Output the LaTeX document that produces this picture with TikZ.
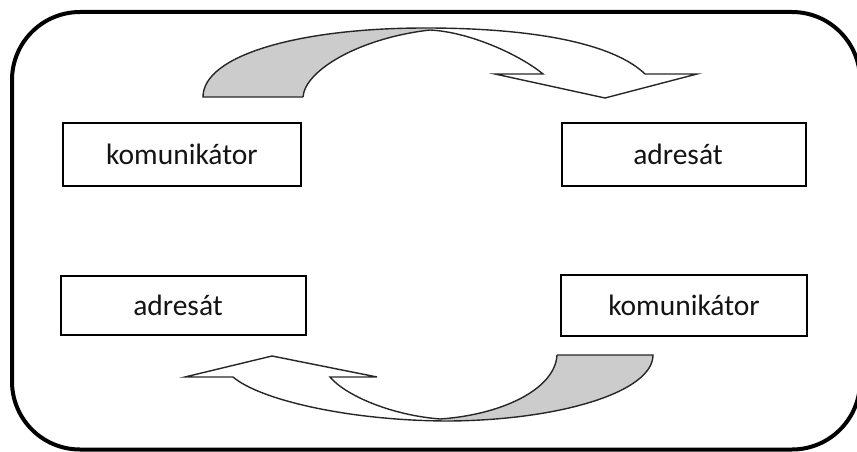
\documentclass[tikz,border=0pt]{standalone}
\usepackage{fontspec}
\setmainfont{Carlito}
\definecolor{bandgray}{RGB}{204,204,204}
\definecolor{txt}{RGB}{20,20,20}
\tikzset{
  role/.style={draw=black, line width=1.6pt, fill=white, inner sep=0pt,
    font=\fontsize{29.5pt}{34pt}\selectfont, text=txt},
  frame/.style={draw=black, line width=4pt, rounded corners=68pt},
  band/.style={draw=black!85, line width=1.4pt, line join=miter},
}
\begin{document}
\begin{tikzpicture}[x=1pt,y=-1pt]
\useasboundingbox (0,0) rectangle (857,452);
% outer frame
\draw[frame] (12,12) rectangle (860,449.5);

% role boxes
\node[role, minimum width=238pt, minimum height=63pt] (kom1) at (182,154.5) {komunikátor};
\node[role, minimum width=244pt, minimum height=63pt] (adr1) at (684,154.5) {adresát\kern12pt};
\node[role, minimum width=245pt, minimum height=59pt] (adr2) at (183.5,305.5) {adresát\kern11pt};
\node[role, minimum width=246pt, minimum height=61pt] (kom2) at (684,305.5) {komunikátor};

% ---- top curved arrow (from komunikator to adresat) ----
% shaded back side
\fill[bandgray] (203,97) -- (303,97)
  .. controls (305,70) and (360,38) .. (430,30)
  -- (425,28)
  .. controls (300,28) and (203,55) .. (203,97) -- cycle;
% outlines
\draw[band] (303,97) -- (203,97)
  .. controls (203,55) and (300,28) .. (425,28)
  .. controls (540,28) and (615,45) .. (645,74)
  -- (697,74) -- (605,98) -- (495,74) -- (543,74)
  .. controls (520,55) and (470,32) .. (430,30)
  .. controls (360,38) and (305,70) .. (303,97);

% ---- bottom curved arrow (from komunikator to adresat) ----
\fill[bandgray] (557,355) -- (653,355)
  .. controls (653,392) and (560,420) .. (450,421)
  -- (440,419)
  .. controls (500,415) and (555,390) .. (557,355) -- cycle;
\draw[band] (557,355) -- (653,355)
  .. controls (653,392) and (560,420) .. (450,421)
  .. controls (350,421) and (260,400) .. (233,377)
  -- (185,377) -- (272,356) -- (377,377) -- (330,377)
  .. controls (345,395) and (390,415) .. (440,419)
  .. controls (500,415) and (555,390) .. (557,355);
\end{tikzpicture}
\end{document}
